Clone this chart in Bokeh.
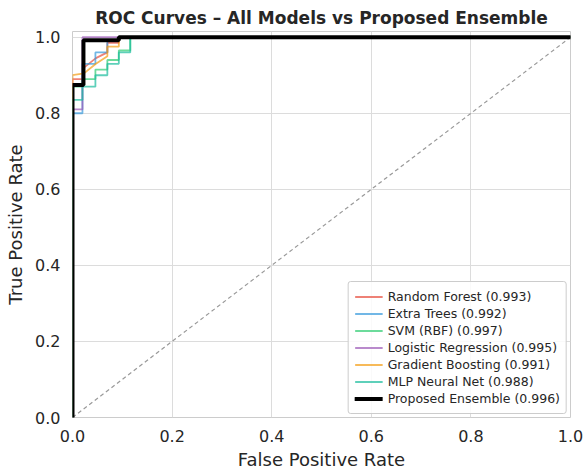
from bokeh.plotting import figure
from bokeh.models import Legend, LegendItem, Range1d, FixedTicker, PrintfTickFormatter
from bokeh.embed import file_html
from bokeh.resources import INLINE

models = ["Random Forest", "Extra Trees", "SVM (RBF)", "Logistic Regression",
          "Gradient Boosting", "MLP Neural Net"]
aucs = [0.993, 0.992, 0.997, 0.995, 0.991, 0.988]
colors = ["#e74c3c", "#3498db", "#2ecc71", "#9b59b6", "#f39c12", "#1abc9c"]

rf_fpr = [0, 0, 0.023, 0.023, 0.047, 0.07, 0.07, 0.093, 0.093, 1]
rf_tpr = [0, 0.89, 0.89, 0.92, 0.945, 0.96, 0.985, 0.985, 1, 1]
et_fpr = [0, 0, 0.02, 0.02, 0.046, 0.046, 0.07, 0.07, 0.093, 0.093, 1]
et_tpr = [0, 0.80, 0.80, 0.93, 0.93, 0.96, 0.96, 0.99, 0.99, 1, 1]
svm_fpr = [0, 0, 0.02, 0.02, 0.046, 0.046, 0.07, 0.07, 0.093, 0.093, 0.116, 0.116, 1]
svm_tpr = [0, 0.87, 0.87, 0.89, 0.89, 0.915, 0.915, 0.94, 0.94, 0.965, 0.965, 1, 1]
lr_fpr = [0, 0, 0.02, 0.02, 1]
lr_tpr = [0, 0.81, 0.81, 1.0, 1.0]
gb_fpr = [0, 0, 0.023, 0.047, 0.07, 0.07, 0.093, 0.093, 1]
gb_tpr = [0, 0.90, 0.905, 0.93, 0.95, 0.975, 0.975, 1, 1]
mlp_fpr = [0, 0, 0.02, 0.02, 0.046, 0.046, 0.07, 0.07, 0.093, 0.093, 0.116, 0.116, 1]
mlp_tpr = [0, 0.835, 0.835, 0.87, 0.87, 0.90, 0.90, 0.93, 0.93, 0.96, 0.96, 1, 1]

ens_fpr = [0, 0, 0.022, 0.022, 0.093, 0.093, 1]
ens_tpr = [0, 0.874, 0.874, 0.992, 0.992, 1, 1]
ens_auc = 0.996

curves = [(rf_fpr, rf_tpr), (et_fpr, et_tpr), (svm_fpr, svm_tpr), (lr_fpr, lr_tpr),
          (gb_fpr, gb_tpr), (mlp_fpr, mlp_tpr)]

ticks = [0.0, 0.2, 0.4, 0.6, 0.8, 1.0]

p = figure(width=584, height=475, output_backend="svg", toolbar_location=None,
           x_range=Range1d(0, 1), y_range=Range1d(0, 1.015),
           title="ROC Curves \u2013 All Models vs Proposed Ensemble",
           min_border_left=72, min_border_right=14, min_border_top=31,
           min_border_bottom=58)

p.title.align = "center"
p.title.text_font = "DejaVu Sans"
p.title.text_font_size = "17px"
p.title.text_font_style = "bold"
p.title.text_color = "#262626"
p.title.standoff = 7

p.outline_line_color = "#cccccc"
p.outline_line_width = 1
p.background_fill_color = "white"
p.border_fill_color = "white"

for ax in (p.xaxis, p.yaxis):
    ax.ticker = FixedTicker(ticks=ticks)
    ax.formatter = PrintfTickFormatter(format="%.1f")
    ax.axis_line_color = None
    ax.major_tick_line_color = None
    ax.minor_tick_line_color = None
    ax.major_label_text_font = "DejaVu Sans"
    ax.major_label_text_font_size = "16px"
    ax.major_label_text_color = "#262626"
    ax.axis_label_text_font = "DejaVu Sans"
    ax.axis_label_text_font_size = "18px"
    ax.axis_label_text_font_style = "normal"
    ax.axis_label_text_color = "#262626"
    ax.major_label_standoff = 6

p.xaxis.axis_label = "False Positive Rate"
p.yaxis.axis_label = "True Positive Rate"
p.xaxis.axis_label_standoff = 4
p.yaxis.axis_label_standoff = 6

p.xgrid.ticker = FixedTicker(ticks=ticks)
p.ygrid.ticker = FixedTicker(ticks=ticks)
p.grid.grid_line_color = "#dcdcdc"
p.grid.grid_line_width = 1

# chance diagonal
p.line([0, 1], [0, 1], line_color="#999999", line_dash="4 3", line_width=1.2)

items = []
for (fx, ty), name, auc, c in zip(curves, models, aucs, colors):
    r = p.line(fx, ty, line_color=c, line_width=1.8, line_alpha=0.7)
    items.append(LegendItem(label=f"{name} ({auc:.3f})", renderers=[r]))

re = p.line(ens_fpr, ens_tpr, line_color="black", line_width=4, line_cap="round")
items.append(LegendItem(label=f"Proposed Ensemble ({ens_auc:.3f})", renderers=[re]))

legend = Legend(items=items, location="bottom_right")
legend.label_text_font = "DejaVu Sans"
legend.label_text_font_size = "12.5px"
legend.label_text_color = "#262626"
legend.label_height = 17
legend.glyph_height = 17
legend.glyph_width = 28
legend.spacing = 0
legend.padding = 6
legend.margin = 3
legend.border_line_color = "#cccccc"
legend.border_line_alpha = 1
legend.background_fill_alpha = 0.85
legend.border_radius = 3
p.add_layout(legend)

open("out.html", "w").write(file_html(p, INLINE))
